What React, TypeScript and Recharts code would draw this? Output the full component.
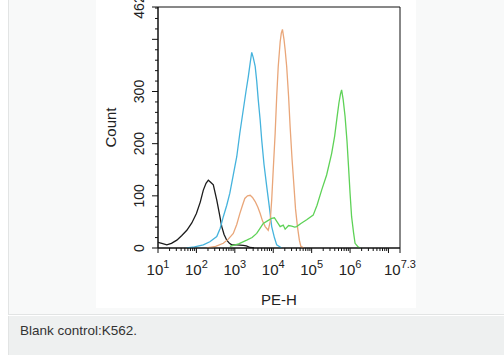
import { LineChart, Line, XAxis, YAxis, ReferenceArea } from 'recharts';

// log10 position on the PE-H axis, and counts
const blackLog = [1.0, 1.1, 1.23, 1.35, 1.49, 1.62, 1.75, 1.88, 2.0, 2.1, 2.18, 2.25, 2.31, 2.37, 2.44, 2.53, 2.6, 2.66, 2.72, 2.79, 2.86, 2.92, 3.05, 3.22, 3.3, 3.4, 3.5];
const blackCount = [11, 9, 6, 9, 15, 24, 34, 48, 66, 88, 111, 124, 130, 126, 121, 92, 65, 41, 26, 15, 9, 6, 6, 5, 4, 1, 0];

const blueLog = [1.75, 1.95, 2.18, 2.35, 2.53, 2.62, 2.7, 2.79, 2.87, 2.96, 3.05, 3.13, 3.22, 3.29, 3.35, 3.4, 3.44, 3.48, 3.53, 3.57, 3.61, 3.66, 3.7, 3.76, 3.83, 3.9, 3.96, 4.03, 4.09, 4.22];
const blueCount = [0, 2, 6, 12, 22, 38, 60, 82, 105, 140, 175, 220, 265, 300, 328, 355, 375, 365, 348, 320, 284, 245, 207, 160, 118, 78, 41, 20, 6, 0];

const orangeLog = [2.27, 2.5, 2.7, 2.83, 2.96, 3.05, 3.13, 3.2, 3.26, 3.33, 3.4, 3.46, 3.53, 3.6, 3.66, 3.72, 3.79, 3.87, 3.92, 3.96, 4.0, 4.05, 4.09, 4.13, 4.18, 4.21, 4.24, 4.28, 4.31, 4.35, 4.4, 4.44, 4.49, 4.54, 4.58, 4.63, 4.68, 4.72, 4.8];
const orangeCount = [0, 3, 9, 17, 28, 45, 66, 82, 95, 100, 101, 97, 89, 78, 66, 52, 41, 34, 50, 92, 150, 220, 290, 348, 395, 412, 419, 400, 380, 348, 290, 232, 170, 118, 75, 41, 15, 3, 0];

const greenLog = [2.87, 3.1, 3.31, 3.45, 3.57, 3.66, 3.74, 3.85, 3.96, 4.03, 4.1, 4.18, 4.26, 4.31, 4.4, 4.48, 4.56, 4.61, 4.72, 4.87, 5.04, 5.14, 5.26, 5.39, 5.52, 5.6, 5.66, 5.71, 5.75, 5.78, 5.82, 5.87, 5.92, 5.96, 6.0, 6.04, 6.09, 6.13, 6.2, 6.26];
const greenCount = [3, 8, 15, 20, 28, 38, 47, 52, 57, 58, 50, 41, 44, 36, 43, 42, 40, 41, 47, 54, 63, 82, 111, 140, 181, 215, 250, 278, 295, 303, 285, 252, 205, 156, 105, 60, 30, 9, 3, 0];

const xMajor = [1, 2, 3, 4, 5, 6, 7, 7.3];
const xLabels = [1, 2, 3, 4, 5, 6, 7.3];
const xMinor = [1, 2, 3, 4, 5, 6].flatMap((d) => [2, 3, 4, 5, 6, 7, 8, 9].map((k) => d + Math.log10(k)));
const xTicks = [...xMajor, ...xMinor].sort((a, b) => a - b);

const yTicks = [...Array.from({ length: 24 }, (_, i) => i * 20), 462];
const yLabels = [0, 100, 200, 300, 462];

const toRows = (xs: number[], ys: number[]) => xs.map((x, i) => ({ x, c: ys[i] }));

const series = [
  { name: 'control', color: '#1c1c1c', rows: toRows(blackLog, blackCount) },
  { name: 'blue', color: '#45b3dd', rows: toRows(blueLog, blueCount) },
  { name: 'orange', color: '#e9a679', rows: toRows(orangeLog, orangeCount) },
  { name: 'green', color: '#5ed257', rows: toRows(greenLog, greenCount) },
];

const FONT = 'Arial, "Liberation Sans", sans-serif';
const AXIS_Y = 248;
const AXIS_X = 62;

const renderXTick = (props: any) => {
  const { x, payload } = props;
  const v = payload.value;
  const major = xMajor.some((m) => Math.abs(m - v) < 1e-9);
  const labelled = xLabels.some((m) => Math.abs(m - v) < 1e-9);
  return (
    <g key={`xt-${v}`}>
      <line x1={x} x2={x} y1={AXIS_Y} y2={AXIS_Y + (major ? 5 : 3)} stroke="#111" />
      {labelled && (
        <text x={x} y={AXIS_Y + 27} textAnchor="middle" fontSize={15} fill="#222" fontFamily={FONT}>
          10
          <tspan dy={-7} fontSize={11}>{v === 7.3 ? '7.3' : String(v)}</tspan>
        </text>
      )}
    </g>
  );
};

const renderYTick = (props: any) => {
  const { y, payload } = props;
  const v = payload.value;
  const major = v % 100 === 0 || v === 462;
  const lx = AXIS_X - 19;
  return (
    <g key={`yt-${v}`}>
      <line x1={AXIS_X - (major ? 6 : 3)} x2={AXIS_X} y1={y} y2={y} stroke="#111" />
      {yLabels.includes(v) && (
        <text
          x={lx}
          y={y}
          transform={`rotate(-90 ${lx} ${y})`}
          textAnchor="middle"
          dominantBaseline="central"
          fontSize={14}
          fill="#222"
          fontFamily={FONT}
        >
          {v}
        </text>
      )}
    </g>
  );
};

export default function App() {
  return (
    <div style={{ position: 'absolute', left: 0, top: 0, width: 504, height: 355, background: '#fff', fontFamily: FONT }}>
      <div
        style={{
          position: 'absolute',
          left: 8,
          top: 0,
          width: 496,
          height: 315,
          background: '#f8f9f9',
          borderLeft: '1px solid #e2e4e4',
          borderBottom: '1px solid #e2e4e4',
          boxSizing: 'border-box',
        }}
      />
      <div style={{ position: 'absolute', left: 96, top: 0, width: 320, height: 308, background: '#fff' }}>
        <LineChart width={320} height={308} margin={{ top: 7, right: 16, left: 0, bottom: 0 }}>
          <XAxis
            dataKey="x"
            type="number"
            domain={[1, 7.3]}
            ticks={xTicks}
            interval={0}
            allowDataOverflow
            height={60}
            tickSize={0}
            tickMargin={0}
            tickLine={false}
            axisLine={{ stroke: '#111' }}
            tick={renderXTick}
            label={{ value: 'PE-H', position: 'insideBottom', offset: 3, fontSize: 15, fill: '#222', fontFamily: FONT }}
          />
          <YAxis
            type="number"
            domain={[0, 462]}
            ticks={yTicks}
            interval={0}
            allowDataOverflow
            width={62}
            tickSize={0}
            tickMargin={0}
            tickLine={false}
            axisLine={{ stroke: '#111' }}
            tick={renderYTick}
            label={{ value: 'Count', angle: -90, position: 'insideLeft', offset: 15, fontSize: 15, fill: '#222', fontFamily: FONT, style: { textAnchor: 'middle' } }}
          />
          <ReferenceArea x1={1} x2={7.3} y1={0} y2={462} fill="none" stroke="#111" strokeOpacity={1} />
          {series.map((s) => (
            <Line
              key={s.name}
              data={s.rows}
              dataKey="c"
              type="linear"
              stroke={s.color}
              strokeWidth={1.3}
              dot={false}
              activeDot={false}
              isAnimationActive={false}
            />
          ))}
        </LineChart>
      </div>
      <div
        style={{
          position: 'absolute',
          left: 8,
          top: 316,
          width: 496,
          height: 39,
          background: '#eef0f0',
          borderLeft: '1px solid #e2e4e4',
          boxSizing: 'border-box',
        }}
      />
      <div style={{ position: 'absolute', left: 20, top: 324, fontSize: 13.5, color: '#333', lineHeight: '14px' }}>
        Blank control:K562.
      </div>
    </div>
  );
}
